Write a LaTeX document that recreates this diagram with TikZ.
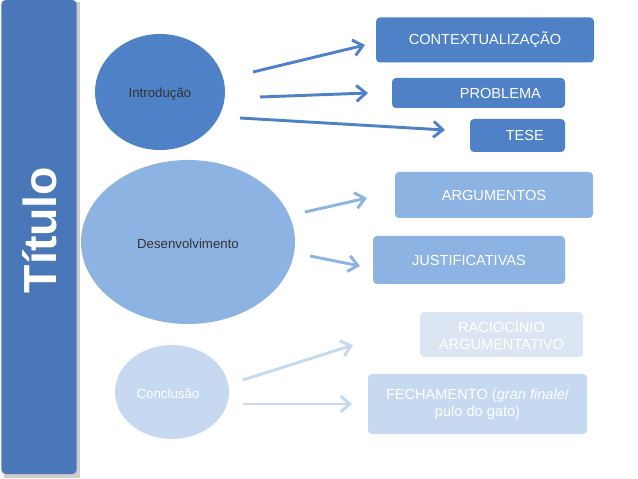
\documentclass[tikz,border=0pt]{standalone}
\usepackage{fontspec}
\setmainfont{Liberation Sans}
\usetikzlibrary{arrows.meta, shapes.geometric}
\definecolor{azulA}{HTML}{4F81C7}
\definecolor{azulB}{HTML}{8DB3E2}
\definecolor{azulC}{HTML}{C6D9F1}
\definecolor{azulD}{HTML}{DCE6F2}
\newdimen\pxu \pxu=0.0265cm
\tikzset{
  bola/.style={ellipse, inner sep=0pt},
  caixa/.style={rectangle, rounded corners=3pt, text=white, align=center, font=\fontsize{11}{13}\selectfont},
  seta/.style={line width=2.2pt, -{Straight Barb[length=7pt, width=12pt]}}
}
\begin{document}
\begin{tikzpicture}[x=0.0265cm, y=-0.0265cm]
  \useasboundingbox (0,0) rectangle (638,479);
  % faixa lateral
  \fill[gray!40] (4,2) rectangle (80,478);
  \node (faixa) [fill=azulA!92!black, rounded corners=3pt, minimum width=75\pxu, minimum height=474\pxu] at (39,237) {};
  \node (titulo) [rotate=90, text=white, font=\fontsize{35}{35}\bfseries\selectfont] at (40,230) {Título};
  % elipses
  \node (intro) [bola, fill=azulA, minimum width=130\pxu, minimum height=116\pxu] at (160,92) {};
  \node [font=\fontsize{10}{12}\selectfont, text=black!80] at (160,94) {Introdução};
  \node (desenv) [bola, fill=azulB, minimum width=214\pxu, minimum height=164\pxu] at (188,242) {};
  \node [font=\fontsize{10}{12}\selectfont, text=black!80] at (188,244) {Desenvolvimento};
  \node (concl) [bola, fill=azulC, minimum width=114\pxu, minimum height=94\pxu] at (172,392) {};
  \node [font=\fontsize{10}{12}\selectfont, text=white] at (168,394) {Conclusão};
  % caixas
  \node (ctx) [caixa, fill=azulA, minimum width=218\pxu, minimum height=45\pxu] at (485,40) {CONTEXTUALIZAÇÃO};
  \node (prob) [caixa, fill=azulA, minimum width=173\pxu, minimum height=30\pxu] at (478.5,93) {\hspace*{3em}PROBLEMA};
  \node (tese) [caixa, fill=azulA, minimum width=95\pxu, minimum height=33\pxu] at (517.5,135.5) {\hspace*{1em}TESE};
  \node (arg) [caixa, fill=azulB, minimum width=198\pxu, minimum height=46\pxu] at (494,195) {ARGUMENTOS};
  \node (just) [caixa, fill=azulB, minimum width=192\pxu, minimum height=48\pxu] at (469,260) {JUSTIFICATIVAS};
  \node (rac) [caixa, fill=azulD, minimum width=163\pxu, minimum height=45\pxu] at (501.5,334.5) {RACIOCÍNIO\\ARGUMENTATIVO};
  \node (fech) [caixa, fill=azulC, minimum width=219\pxu, minimum height=60\pxu] at (477.5,404) {FECHAMENTO (\textit{gran finale}/\\pulo do gato)};
  % setas
  \coordinate (i1) at (253,72); \coordinate (c1) at (365,45);
  \coordinate (i2) at (260,97); \coordinate (p1) at (368,93);
  \coordinate (i3) at (240,118); \coordinate (t1) at (445,130);
  \coordinate (d1) at (305,212); \coordinate (a1) at (367,198);
  \coordinate (d2) at (310,256); \coordinate (j1) at (360,266);
  \coordinate (k1) at (243,380); \coordinate (r1) at (353,345);
  \coordinate (k2) at (243,404); \coordinate (f1) at (352,404);
  \draw [seta, azulA] (i1) -- (c1);
  \draw [seta, azulA] (i2) -- (p1);
  \draw [seta, azulA] (i3) -- (t1);
  \draw [seta, azulB] (d1) -- (a1);
  \draw [seta, azulB] (d2) -- (j1);
  \draw [seta, azulC] (k1) -- (r1);
  \draw [seta, azulC] (k2) -- (f1);
\end{tikzpicture}
\end{document}
